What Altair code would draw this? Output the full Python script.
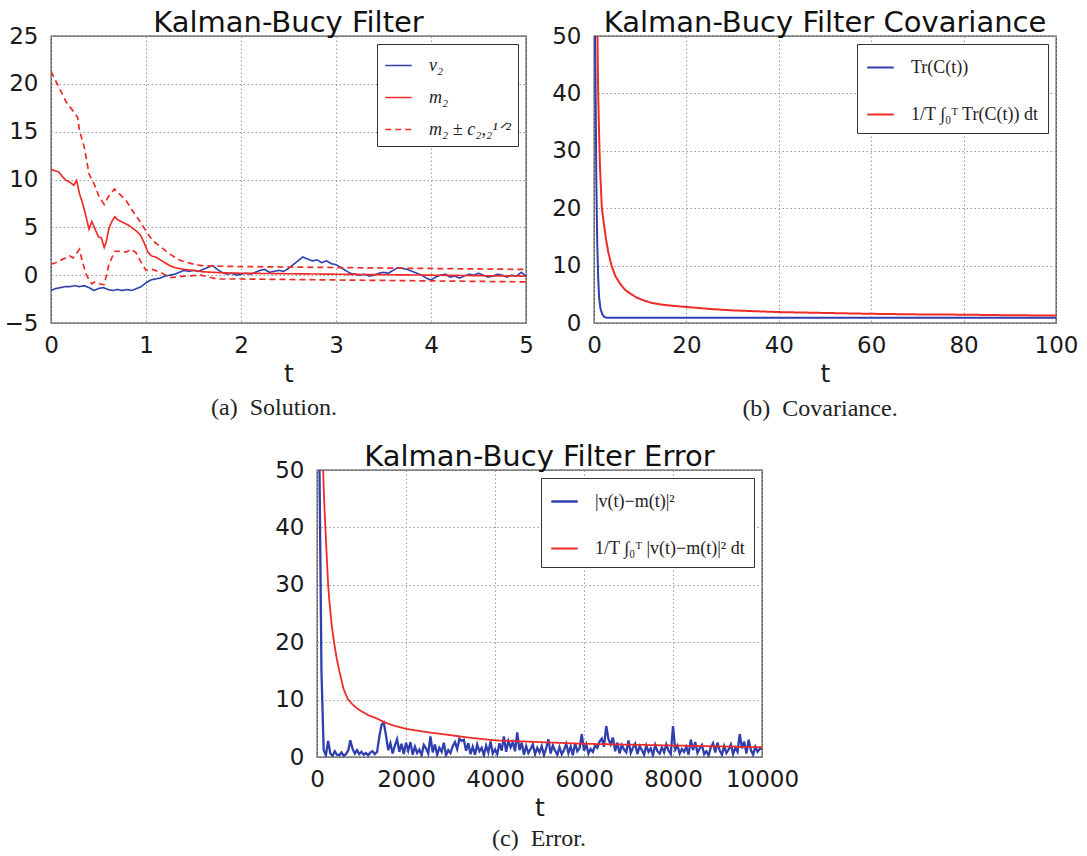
import altair as alt
import pandas as pd

BLUE = "#2f3fae"
RED = "#ef2b27"
SANS = "DejaVu Sans"
SERIF = "Liberation Serif"

TITLES = ["Kalman-Bucy Filter", "Kalman-Bucy Filter Covariance", "Kalman-Bucy Filter Error"]
CAPTIONS = ["(a)\u2002Solution.", "(b)\u2002Covariance.", "(c)\u2002Error."]

# ---------------- panel (a) ----------------
A_SERIES = ["v₂", "m₂", "m₂ ± c₂,₂¹ᐟ²"]
A_T_V2 = [0.00, 0.05, 0.10, 0.15, 0.20, 0.25, 0.30, 0.35, 0.40, 0.45,
          0.50, 0.55, 0.60, 0.65, 0.70, 0.75, 0.80, 0.85, 0.90, 0.95,
          1.00, 1.05, 1.10, 1.15, 1.20, 1.25, 1.30, 1.35, 1.40, 1.45,
          1.50, 1.55, 1.60, 1.65, 1.70, 1.75, 1.80, 1.85, 1.90, 1.95,
          2.00, 2.05, 2.10, 2.15, 2.20, 2.25, 2.30, 2.35, 2.40, 2.45,
          2.50, 2.55, 2.60, 2.65, 2.70, 2.75, 2.80, 2.85, 2.90, 2.95,
          3.00, 3.05, 3.10, 3.15, 3.20, 3.25, 3.30, 3.35, 3.40, 3.45,
          3.50, 3.55, 3.60, 3.65, 3.70, 3.75, 3.80, 3.85, 3.90, 3.95,
          4.00, 4.05, 4.10, 4.15, 4.20, 4.25, 4.30, 4.35, 4.40, 4.45,
          4.50, 4.55, 4.60, 4.65, 4.70, 4.75, 4.80, 4.85, 4.90, 4.95, 5.00]
A_V2 = [-1.6, -1.4, -1.3, -1.2, -1.2, -1.1, -1.2, -1.1, -1.3, -1.6,
        -1.4, -1.3, -1.5, -1.6, -1.5, -1.6, -1.5, -1.6, -1.4, -1.2,
        -0.8, -0.5, -0.4, -0.3, -0.1, 0.0, 0.1, 0.3, 0.5, 0.4,
        0.5, 0.4, 0.6, 0.8, 1.0, 0.6, 0.3, 0.1, 0.2, 0.0,
        0.1, 0.2, 0.1, 0.3, 0.5, 0.6, 0.3, 0.4, 0.5, 0.4,
        0.7, 1.1, 1.5, 1.9, 1.7, 1.5, 1.6, 1.3, 1.5, 1.2,
        1.1, 0.8, 0.5, 0.2, 0.1, 0.0, 0.1, -0.1, 0.0, 0.2,
        0.3, 0.2, 0.5, 0.8, 0.7, 0.6, 0.4, 0.2, 0.0, -0.3,
        -0.5, -0.2, 0.0, 0.1, -0.2, -0.1, -0.3, -0.1, 0.1, 0.0,
        0.2, 0.0, -0.2, -0.1, 0.1, 0.0, -0.2, 0.0, -0.1, 0.3, -0.1]
A_T_M2 = [0, 0.04, 0.08, 0.12, 0.16, 0.2, 0.24, 0.27, 0.3, 0.33, 0.36, 0.4, 0.43, 0.46,
          0.5, 0.53, 0.56, 0.58, 0.61, 0.64, 0.67, 0.7, 0.74, 0.78, 0.82, 0.86, 0.9, 0.94,
          0.98, 1.02, 1.06, 1.1, 1.15, 1.2, 1.25, 1.3, 1.4, 1.5, 1.6, 1.7, 1.8, 2.0, 2.5,
          3.0, 3.5, 4.0, 4.5, 5.0]
A_M2 = [11.1, 10.9, 10.8, 10.3, 9.9, 9.7, 9.4, 9.9, 8.5, 7.6, 6.5, 4.8, 5.6, 4.9,
        4.0, 3.9, 2.9, 3.4, 4.9, 5.6, 6.1, 5.8, 5.6, 5.4, 5.2, 4.9, 4.6, 4.2,
        3.4, 2.4, 2.0, 1.9, 1.6, 1.3, 1.0, 0.8, 0.6, 0.5, 0.35, 0.3, 0.25, 0.2, 0.15,
        0.1, 0.05, 0.0, -0.05, -0.1]
A_T_UP = [0, 0.09, 0.16, 0.23, 0.28, 0.3, 0.35, 0.4, 0.46, 0.51, 0.56, 0.61, 0.67,
          0.72, 0.79, 0.86, 0.93, 1.0, 1.07, 1.15, 1.25, 1.37, 1.5, 1.58, 1.7, 2.0,
          2.5, 3.0, 3.5, 4.0, 4.5, 5.0]
A_UP = [21.3, 19.5, 18.1, 17.2, 16.5, 15.1, 13.4, 10.6, 9.4, 8.1, 7.4, 8.3, 9.0,
        8.5, 7.8, 6.7, 5.7, 4.6, 3.6, 3.0, 2.2, 1.5, 1.15, 1.0, 0.95, 0.9,
        0.85, 0.8, 0.75, 0.7, 0.65, 0.6]
A_T_LO = [0, 0.05, 0.09, 0.13, 0.16, 0.2, 0.23, 0.27, 0.3, 0.33, 0.37, 0.4, 0.43, 0.46,
          0.51, 0.56, 0.61, 0.67, 0.72, 0.79, 0.84, 0.89, 0.94, 1.0, 1.07, 1.15, 1.26,
          1.4, 1.58, 1.75, 2.0, 2.5, 3.0, 3.5, 4.0, 4.5, 5.0]
A_LO = [1.15, 1.3, 1.5, 1.7, 1.8, 2.0, 1.8, 2.3, 2.7, 1.4, 0.1, -0.5, -0.9, -0.7,
        -0.9, -1.0, 1.1, 2.5, 2.5, 2.4, 2.7, 2.4, 1.5, 0.5, 0.6, 0.3, -0.25,
        -0.1, 0.0, -0.4, -0.4, -0.45, -0.5, -0.55, -0.6, -0.65, -0.7]

# ---------------- panel (b) ----------------
B_SERIES = ["Tr(C(t))", "1/T ∫₀ᵀ Tr(C(t)) dt"]
B_T_TR = [0, 0.3, 0.5, 0.7, 0.9, 1.1, 1.4, 1.8, 2.3, 3, 5, 10, 20, 40, 60, 80, 100]
B_TR = [70, 45, 25, 14, 8, 4.5, 2.5, 1.5, 1.0, 0.9, 0.9, 0.9, 0.9, 0.9, 0.9, 0.9, 0.9]
B_T_AVG = [0.3, 0.5, 0.75, 0.9, 1.1, 1.3, 1.7, 2.1, 2.6, 3.1, 3.8, 4.6, 5.7, 6.7, 7.9,
           9.3, 10.9, 12.5, 14.7, 17, 20, 25, 30, 35, 40, 50, 60, 70, 80, 90, 100]
B_AVG = [100, 70, 50, 40, 33, 27, 20, 17.5, 14.6, 12.3, 10, 8.2, 6.8, 5.8, 5.1,
         4.4, 3.9, 3.5, 3.2, 3.0, 2.8, 2.45, 2.2, 2.05, 1.9, 1.75, 1.6, 1.5, 1.45, 1.35, 1.3]

# ---------------- panel (c) ----------------
C_SERIES = ["|v(t)−m(t)|²", "1/T ∫₀ᵀ |v(t)−m(t)|² dt"]
C_T_ERR = [0, 50, 100, 150, 200, 250, 300, 350, 400, 450,
           500, 550, 600, 650, 700, 750, 800, 850, 900, 950,
           1000, 1050, 1100, 1150, 1200, 1250, 1300, 1350, 1400, 1450,
           1500, 1550, 1600, 1650, 1700, 1750, 1800, 1850, 1900, 1950,
           2000, 2050, 2100, 2150, 2200, 2250, 2300, 2350, 2400, 2450,
           2500, 2550, 2600, 2650, 2700, 2750, 2800, 2850, 2900, 2950,
           3000, 3050, 3100, 3150, 3200, 3250, 3300, 3350, 3400, 3450,
           3500, 3550, 3600, 3650, 3700, 3750, 3800, 3850, 3900, 3950,
           4000, 4050, 4100, 4150, 4200, 4250, 4300, 4350, 4400, 4450,
           4500, 4550, 4600, 4650, 4700, 4750, 4800, 4850, 4900, 4950,
           5000, 5050, 5100, 5150, 5200, 5250, 5300, 5350, 5400, 5450,
           5500, 5550, 5600, 5650, 5700, 5750, 5800, 5850, 5900, 5950,
           6000, 6050, 6100, 6150, 6200, 6250, 6300, 6350, 6400, 6450,
           6500, 6550, 6600, 6650, 6700, 6750, 6800, 6850, 6900, 6950,
           7000, 7050, 7100, 7150, 7200, 7250, 7300, 7350, 7400, 7450,
           7500, 7550, 7600, 7650, 7700, 7750, 7800, 7850, 7900, 7950,
           8000, 8050, 8100, 8150, 8200, 8250, 8300, 8350, 8400, 8450,
           8500, 8550, 8600, 8650, 8700, 8750, 8800, 8850, 8900, 8950,
           9000, 9050, 9100, 9150, 9200, 9250, 9300, 9350, 9400, 9450,
           9500, 9550, 9600, 9650, 9700, 9750, 9800, 9850, 9900, 9950,
           10000]
C_ERR = [60, 55, 15, 1.2, 0.3, 2.8, 0.6, 0.2, 1.0, 0.4,
         0.3, 0.8, 0.2, 0.5, 1.1, 2.9, 1.4, 0.6, 1.2, 0.5,
         0.9, 0.4, 0.7, 0.3, 0.8, 1.0, 0.5, 0.9, 3.5, 5.6,
         6.0, 3.8, 1.2, 2.4, 0.6, 2.0, 3.1, 0.9, 2.3, 0.5,
         2.5, 1.1, 2.6, 0.4, 1.8, 0.7, 1.3, 0.3, 2.1, 1.5,
         0.6, 3.6, 0.8, 2.2, 0.4, 1.6, 0.9, 2.5, 0.3, 1.2,
         0.7, 1.9, 2.6, 1.4, 3.2, 2.8, 3.0, 1.1, 2.4, 0.5,
         1.8, 0.4, 2.2, 1.0, 1.6, 0.3, 2.0, 0.8, 2.7, 0.6,
         1.3, 0.5, 2.4, 1.1, 3.6, 0.9, 2.8, 1.7, 2.6, 1.0,
         4.3, 1.2, 2.5, 0.4, 1.9, 0.7, 1.4, 2.2, 0.5, 1.6,
         0.8, 1.9, 0.3, 1.5, 3.1, 0.6, 2.0, 1.1, 0.4, 1.7,
         0.5, 1.2, 2.3, 0.7, 1.8, 0.3, 2.4, 1.0, 1.5, 4.0,
         1.1, 2.2, 0.6, 1.4, 0.9, 2.0, 1.6, 2.7, 3.2, 1.8,
         5.4, 3.1, 2.2, 3.4, 1.0, 2.5, 0.6, 2.1, 1.3, 0.8,
         2.9, 0.7, 1.6, 2.3, 0.5, 1.9, 1.2, 0.4, 2.0, 0.9,
         1.5, 0.3, 2.1, 1.0, 0.6, 1.7, 0.8, 2.2, 1.1, 0.5,
         5.4, 1.3, 2.0, 0.6, 1.4, 0.9, 1.8, 0.4, 3.0, 1.2,
         2.6, 0.7, 1.5, 2.1, 0.5, 1.0, 0.3, 1.7, 2.4, 0.8,
         2.5, 1.1, 0.4, 1.9, 0.7, 1.3, 2.2, 0.5, 1.6, 0.9,
         4.0, 1.5, 2.7, 0.6, 3.0, 1.2, 0.4, 1.8, 0.9, 1.4,
         1.5]
C_T_AVG = [100, 138, 150, 170, 200, 250, 280, 330, 385, 440, 500, 600, 692, 780, 850,
           950, 1040, 1150, 1250, 1350, 1500, 1750, 2000, 2500, 3000, 3500, 4000, 5000,
           6000, 7000, 8000, 9000, 10000]
C_AVG = [70, 50, 47, 43, 38, 30, 27, 23, 19.9, 17.3, 15, 11.8, 10.1, 9.3, 8.8,
         8.2, 7.8, 7.3, 7.0, 6.7, 6.1, 5.4, 4.9, 4.3, 3.8, 3.3, 2.9, 2.6,
         2.3, 2.15, 2.0, 1.85, 1.7]


def frame(t_lists, v_lists, names, lines):
    rows = []
    for ts, vs, nm, ln in zip(t_lists, v_lists, names, lines):
        for t, v in zip(ts, vs):
            rows.append({"t": t, "value": v, "series": nm, "line": ln})
    return pd.DataFrame(rows)


df_a = frame([A_T_V2, A_T_M2, A_T_UP, A_T_LO], [A_V2, A_M2, A_UP, A_LO],
             [A_SERIES[0], A_SERIES[1], A_SERIES[2], A_SERIES[2]], ["v", "m", "up", "lo"])
df_b = frame([B_T_TR, B_T_AVG], [B_TR, B_AVG], B_SERIES, ["tr", "avg"])
df_c = frame([C_T_ERR, C_T_AVG], [C_ERR, C_AVG], C_SERIES, ["err", "avg"])


def legend(pad, rowpad, size=18, italic=False):
    kw = dict(title=None, orient="top-right", offset=8, strokeColor="#333333",
              fillColor="white", padding=pad, rowPadding=rowpad, symbolType="stroke",
              symbolSize=700, symbolStrokeWidth=2, labelFont=SERIF, labelFontSize=size,
              labelColor="#222222", labelOffset=16, labelLimit=400)
    if italic:
        kw["labelFontStyle"] = "italic"
    return alt.Legend(**kw)


def panel(df, series, colors, dashes, widths, xdom, xvals, ydom, yvals, title, caption,
          w, h, leg, cap_x, cap_y, xfmt="d"):
    lines = alt.Chart(df).mark_line(clip=True).encode(
        x=alt.X("t:Q", scale=alt.Scale(domain=xdom, nice=False, zero=False),
                axis=alt.Axis(values=xvals, title="t", format=xfmt, labelPadding=11,
                              titlePadding=4)),
        y=alt.Y("value:Q", scale=alt.Scale(domain=ydom, nice=False, zero=False),
                axis=alt.Axis(values=yvals, title=None, labelPadding=13)),
        color=alt.Color("series:N", scale=alt.Scale(domain=series, range=colors), legend=leg),
        strokeDash=alt.StrokeDash("series:N", scale=alt.Scale(domain=series, range=dashes),
                                  legend=leg),
        strokeWidth=alt.StrokeWidth("series:N", scale=alt.Scale(domain=series, range=widths),
                                    legend=None),
        detail="line:N",
        order="t:Q",
    )
    cap = alt.Chart(pd.DataFrame({"caption": [caption]})).mark_text(
        font=SERIF, fontSize=24, color="#222222", baseline="middle", align="center"
    ).encode(text="caption:N", x=alt.value(cap_x), y=alt.value(cap_y))
    return alt.layer(lines, cap).properties(
        width=w, height=h,
        title=alt.Title(title, font=SANS, fontSize=29, fontWeight="normal", color="#111111",
                        offset=-13, frame="group", anchor="middle"),
    )


chart_a = panel(df_a, A_SERIES, [BLUE, RED, RED], [[1, 0], [1, 0], [6, 4]], [1.6, 1.7, 1.8],
                [0, 5], [0, 1, 2, 3, 4, 5], [-5, 25], [-5, 0, 5, 10, 15, 20, 25],
                TITLES[0], CAPTIONS[0], 475, 287, legend(7, 8, italic=True), 223, 372)
chart_b = panel(df_b, B_SERIES, [BLUE, RED], [[1, 0], [1, 0]], [2.0, 2.0],
                [0, 100], [0, 20, 40, 60, 80, 100], [0, 50], [0, 10, 20, 30, 40, 50],
                TITLES[1], CAPTIONS[1], 462, 287, legend(9, 23), 226, 373)
chart_c = panel(df_c, C_SERIES, [BLUE, RED], [[1, 0], [1, 0]], [2.3, 1.8],
                [0, 10000], [0, 2000, 4000, 6000, 8000, 10000], [0, 50],
                [0, 10, 20, 30, 40, 50],
                TITLES[2], CAPTIONS[2], 445, 287, legend(9, 23), 222, 369)

SPACER_W = 223
spacer = alt.Chart(pd.DataFrame({"s": [0]})).mark_rule(opacity=0).encode(
    x=alt.value(0), x2=alt.value(SPACER_W), y=alt.value(0)
).properties(width=SPACER_W, height=287, view=alt.ViewBackground(strokeOpacity=0))

top = alt.hconcat(chart_a, chart_b, spacing=17).resolve_scale(
    color="independent", strokeDash="independent", strokeWidth="independent"
).resolve_legend(color="independent", strokeDash="independent")

bottom = alt.hconcat(spacer, chart_c, spacing=0).resolve_scale(
    color="independent", strokeDash="independent", strokeWidth="independent"
).resolve_legend(color="independent", strokeDash="independent")

chart = alt.vconcat(top, bottom, spacing=20).resolve_scale(
    color="independent", strokeDash="independent", strokeWidth="independent"
).resolve_legend(color="independent", strokeDash="independent").configure(
    background="white",
    padding={"left": 3, "top": 8, "right": 2, "bottom": 2},
).configure_view(
    stroke="#444444", strokeWidth=1.3
).configure_axis(
    grid=True, gridColor="#9a9a9a", gridDash=[1.5, 2.5], gridWidth=1,
    domain=False, ticks=False, labelFlush=False, labelOverlap=False,
    labelFont=SANS, labelFontSize=23, labelColor="#1a1a1a",
    titleFont=SANS, titleFontSize=25, titleFontWeight="normal", titleColor="#1a1a1a",
)

chart.save("out.html", embed_options={"renderer": "svg", "actions": False})
